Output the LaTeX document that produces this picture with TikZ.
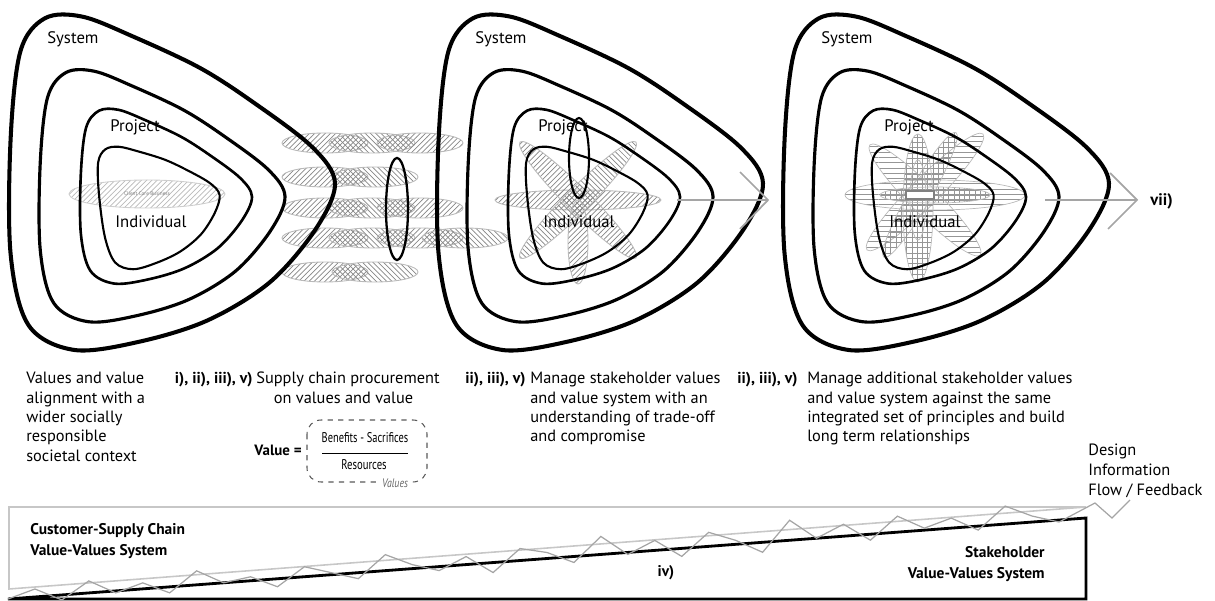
\documentclass[tikz,border=0pt]{standalone}
\usepackage{fontspec}
\setmainfont{PT Sans}
\usepackage{graphicx}
\usepackage{tikz}
\usetikzlibrary{patterns,calc}
\definecolor{hatchgray}{RGB}{135,135,135}
\definecolor{rimgray}{RGB}{185,185,185}
\definecolor{gridgray}{RGB}{150,150,150}
\definecolor{flowgray}{RGB}{165,165,165}
\newcommand{\ringpath}{plot[smooth cycle, tension=0.55] coordinates {(1,0.02) (0.88,0.3) (0.6,0.62) (0.22,0.85) (-0.2,0.98) (-0.6,1.03) (-0.88,0.88) (-0.99,0.45) (-0.99,-0.25) (-0.93,-0.78) (-0.78,-0.98) (-0.55,-0.99) (-0.24,-0.87) (0.17,-0.68) (0.5,-0.47) (0.86,-0.2)}}

\begin{document}
\begin{tikzpicture}[x=0.02cm, y=-0.02cm,
    every node/.style={font=\fontsize{9.3}{11}\selectfont, inner sep=0pt},
    ring/.style={line width=#1, line join=round},
    hatch/.style={draw=rimgray, line width=0.5pt, pattern color=hatchgray},
    soft/.style={draw=rimgray, line width=0.4pt, pattern color=gridgray},
    ne/.style={pattern=north east lines},
    nw/.style={pattern=north west lines},
    flow/.style={draw=flowgray, line width=0.7pt},
    lbl/.style={font=\fontsize{9.5}{11}\selectfont, anchor=base west},
    tag/.style={font=\fontsize{9}{11}\selectfont\bfseries, anchor=base east},
    body/.style={align=left, anchor=north west},
    heavy/.style={font=\fontsize{8.8}{12}\selectfont\bfseries}]

    \useasboundingbox (0,0) rectangle (1215,601);

    % supply chain ellipses
    \foreach \p/\x/\y in {
        ne/325/143, nw/372/143, ne/420/143,
        ne/325/177, nw/375/177,
        ne/325/208, nw/372/208, ne/420/208,
        ne/325/238, nw/372/238, ne/420/238, nw/465/238,
        ne/325/272, nw/375/272
    } {
        \draw[hatch, \p] (\x,\y) ellipse [x radius=43, y radius=10];
    }
    \draw[line width=1.3pt] (397,209) ellipse [x radius=11, y radius=51];

    % client core business
    \draw[hatch, ne, draw=rimgray!70, pattern color=rimgray] (147,194) ellipse [x radius=78, y radius=14];
    \node[font=\fontsize{3}{3}\selectfont, text=gray] (core) at (147,194) {Client Core Business};

    % stakeholder ellipses
    \draw[hatch, ne] (578,200) ellipse [x radius=83, y radius=10];
    \draw[hatch, ne, rotate around={-45:(578,200)}] (578,200) ellipse [x radius=82, y radius=12];
    \draw[hatch, nw, rotate around={45:(578,200)}] (578,200) ellipse [x radius=82, y radius=12];
    \draw[hatch, ne] (578,242) ellipse [x radius=10, y radius=42];
    \draw[line width=1.2pt] (579,158) ellipse [x radius=10, y radius=40];

    % additional stakeholder ellipses
    \draw[soft, pattern=horizontal lines] (935,195) ellipse [x radius=90, y radius=15];
    \draw[soft, pattern=horizontal lines, rotate around={45:(925,192)}] (925,192) ellipse [x radius=82, y radius=14];
    \draw[soft, pattern=horizontal lines, rotate around={-45:(925,200)}] (925,200) ellipse [x radius=78, y radius=14];
    \draw[soft, pattern=grid, rotate around={60:(920,195)}] (920,195) ellipse [x radius=72, y radius=11];
    \draw[soft, pattern=grid] (918,208) ellipse [x radius=15, y radius=74];
    \draw[soft, pattern=grid] (935,195) ellipse [x radius=55, y radius=8];
    \draw[soft] (918,200) ellipse [x radius=8, y radius=40];
    \draw[fill=white, draw=gray, line width=0.6pt] (906,191) rectangle (934,199);

    % contours
    \foreach \dx/\n in {0/a,428/b,774/c} {
        \begin{scope}[shift={(\dx,0)}]
            \draw[ring=2.3pt, shift={(172,180)}, xscale=163, yscale=165] \ringpath;
            \draw[ring=1.8pt, shift={(162,194)}, xscale=123, yscale=124] \ringpath;
            \draw[ring=1.5pt, shift={(166,195)}, xscale=86, yscale=86] \ringpath;
            \draw[ring=1.2pt, shift={(160,202)}, rotate=8, xscale=60, yscale=61] \ringpath;
            \node[lbl] (sys-\n) at (47,44) {System};
            \node[lbl] (prj-\n) at (110,132) {Project};
            \node[lbl] (ind-\n) at (115,228) {Individual};
        \end{scope}
    }

    % feedback arrows
    \coordinate (a2s) at (677,200);
    \coordinate (a2e) at (768,200);
    \coordinate (a3s) at (1045,200);
    \coordinate (a3e) at (1137,200);
    \draw[flow, line width=1pt] (a2s) -- (a2e) (740,172) -- (a2e) -- (740,229);
    \draw[flow, line width=1pt] (a3s) -- (a3e) (1110,173) -- (a3e) -- (1108,229);
    \node[heavy, font=\fontsize{9.5}{11}\selectfont\bfseries, anchor=west] (vii) at (1150,201) {vii)};

    % captions
    \node[body] (cap-a) at (26,372) {Values and value\\alignment with a\\wider socially\\responsible\\societal context};
    \node[tag] (tag-a) at (253,384) {i), ii), iii), v)};
    \node[body] (cap-b) at (256,372) {Supply chain procurement\\\hspace*{10pt}on values and value};
    \node[tag] (tag-b) at (526,384) {ii), iii), v)};
    \node[body] (cap-c) at (530,372) {Manage stakeholder values\\and value system with an\\understanding of trade-off\\and compromise};
    \node[tag] (tag-c) at (798,384) {ii), iii), v)};
    \node[body] (cap-d) at (807,372) {Manage additional stakeholder values\\and value system against the same\\integrated set of principles and build\\long term relationships};
    \node[body, font=\fontsize{9.3}{11.4}\selectfont] (flowlbl) at (1088,444) {Design\\Information\\Flow / Feedback};

    % value formula
    \draw[dashed, draw=gray!70!black, line width=0.6pt, rounded corners=8pt] (307,420) rectangle (427,482);
    \node[font=\fontsize{8.5}{10}\selectfont\bfseries, anchor=base east] (val) at (302,456) {Value =};
    \node[font=\fontsize{8}{9}\selectfont] (ben) at (365,438) {\scalebox{0.74}[1]{Benefits - Sacrifices}};
    \node[font=\fontsize{8}{9}\selectfont] (res) at (364,465) {\scalebox{0.76}[1]{Resources}};
    \coordinate (fr1) at (322,453);
    \coordinate (fr2) at (408,453);
    \draw[line width=0.5pt] (fr1) -- (fr2);
    \node[font=\fontsize{7}{8}\selectfont\itshape, text=gray!80!black, fill=white, inner xsep=1.5pt] (vals) at (395,483) {\scalebox{0.8}[1]{Values}};

    % value-values system
    \coordinate (g1) at (9,507);
    \coordinate (g2) at (1086,507);
    \coordinate (g3) at (9,589);
    \coordinate (k1) at (8,599);
    \coordinate (k2) at (1086,599);
    \coordinate (k3) at (1086,518);
    \draw[draw=rimgray!80, line width=0.9pt] (g3) -- (g1) -- (g2) -- cycle;
    \draw[line width=1.6pt, line join=miter] (k1) -- (k3) -- (k2) -- cycle;
    \draw[flow] (k1) \foreach \t/\o in {
        0.025/-8, 0.05/5, 0.075/-12, 0.1/2, 0.125/-6, 0.15/6, 0.175/-14, 0.2/0, 0.225/-4, 0.25/8,
        0.275/-10, 0.3/-2, 0.325/6, 0.35/-16, 0.375/-4, 0.4/4, 0.425/-8, 0.45/10, 0.475/-12, 0.5/-6,
        0.525/6, 0.55/-18, 0.575/2, 0.6/-10, 0.625/8, 0.65/-14, 0.675/-4, 0.7/10, 0.725/-20, 0.75/0,
        0.775/-12, 0.8/6, 0.825/-16, 0.85/-2, 0.875/-10, 0.9/4, 0.925/-18, 0.95/-6, 0.975/2} {
        -- ($(k1)!\t!(k3)+(0,\o)$)
    } -- (1095,503) -- (1112,518) -- (1130,500);
    \node[heavy, align=left, anchor=north west] (csc) at (30,523) {Customer-Supply Chain\\Value-Values System};
    \node[heavy, align=right, anchor=north east] (stk) at (1045,546) {Stakeholder\\Value-Values System};
    \node[heavy, anchor=center] (iv) at (666,573) {iv)};
\end{tikzpicture}
\end{document}
